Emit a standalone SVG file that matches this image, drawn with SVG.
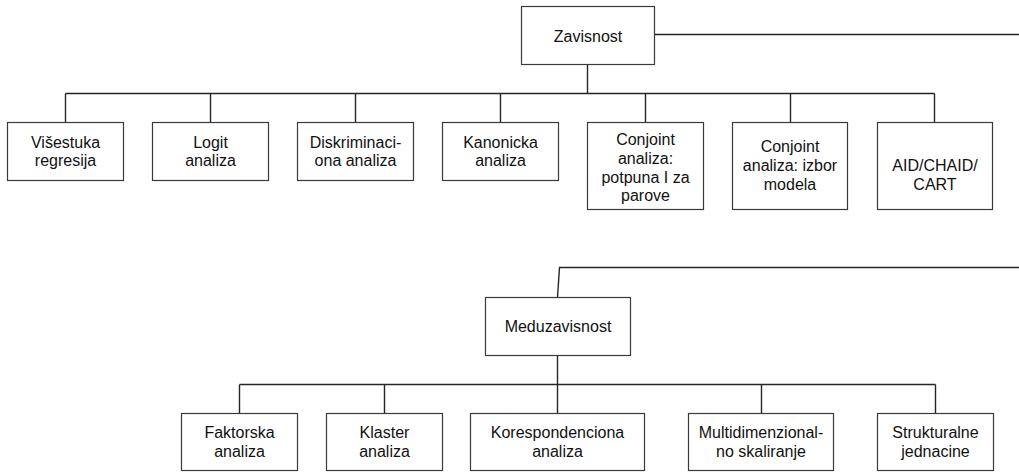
<svg xmlns="http://www.w3.org/2000/svg" width="1019" height="472" viewBox="0 0 1019 472">
<style>
.box{fill:#fff;stroke:#3a3a3a;stroke-width:1.2}
.ln{fill:none;stroke:#262626;stroke-width:1.4}
text{font-family:"Liberation Sans",Arial,sans-serif;font-size:16px;fill:#111;text-anchor:middle}
</style>
<rect width="1019" height="472" fill="#fff"/>
<g id="connectors">
<path class="ln" d="M654.5 34.5H1019"/>
<path class="ln" d="M587.5 64.5V93.5"/>
<path class="ln" d="M65.5 93.5H934.5"/>
<path class="ln" d="M65.5 93.5V122.5M210.5 93.5V122.5M355.5 93.5V122.5M500.5 93.5V122.5M645.5 93.5V122.5M790.5 93.5V122.5M934.5 93.5V122.5"/>
<path class="ln" d="M1019 267.5H559.5L557.5 297.5"/>
<path class="ln" d="M557.5 355.5V413.5"/>
<path class="ln" d="M239.5 384.5H935.5"/>
<path class="ln" d="M239.5 384.5V413.5M384.5 384.5V413.5M761.5 384.5V413.5M935.5 384.5V413.5"/>
</g>
<g id="zavisnost"><rect class="box" x="521.5" y="6.5" width="133" height="58"/><text x="588" y="41.5">Zavisnost</text></g>
<g id="visestuka"><rect class="box" x="7.5" y="122.5" width="116" height="58"/><text x="65.5" y="148">Višestuka</text><text x="65.5" y="166">regresija</text></g>
<g id="logit"><rect class="box" x="152.5" y="122.5" width="116" height="58"/><text x="210.5" y="148">Logit</text><text x="210.5" y="166">analiza</text></g>
<g id="diskriminaciona"><rect class="box" x="297.5" y="122.5" width="116" height="58"/><text x="355.5" y="148">Diskriminaci-</text><text x="355.5" y="166">ona analiza</text></g>
<g id="kanonicka"><rect class="box" x="442.5" y="122.5" width="116" height="58"/><text x="500.5" y="148">Kanonicka</text><text x="500.5" y="166">analiza</text></g>
<g id="conjoint1"><rect class="box" x="587.5" y="122.5" width="116" height="87"/><text x="645.5" y="144.5">Conjoint</text><text x="645.5" y="163.5">analiza:</text><text x="645.5" y="182.5">potpuna I za</text><text x="645.5" y="201">parove</text></g>
<g id="conjoint2"><rect class="box" x="732.5" y="122.5" width="115" height="87"/><text x="790" y="152">Conjoint</text><text x="790" y="171">analiza: izbor</text><text x="790" y="190">modela</text></g>
<g id="aid"><rect class="box" x="877.5" y="122.5" width="115" height="87"/><text x="935" y="171">AID/CHAID/</text><text x="935" y="190">CART</text></g>
<g id="meduzavisnost"><rect class="box" x="485.5" y="297.5" width="145" height="58"/><text x="558" y="331.5">Meduzavisnost</text></g>
<g id="faktorska"><rect class="box" x="181.5" y="413.5" width="116" height="57"/><text x="239.5" y="437.5">Faktorska</text><text x="239.5" y="456.5">analiza</text></g>
<g id="klaster"><rect class="box" x="326.5" y="413.5" width="116" height="57"/><text x="384.5" y="437.5">Klaster</text><text x="384.5" y="456.5">analiza</text></g>
<g id="korespondenciona"><rect class="box" x="470.5" y="413.5" width="174" height="57"/><text x="557.5" y="437.5">Korespondenciona</text><text x="557.5" y="456.5">analiza</text></g>
<g id="multidimenzionalno"><rect class="box" x="688.5" y="413.5" width="145" height="57"/><text x="761" y="437.5">Multidimenzional-</text><text x="761" y="456.5">no skaliranje</text></g>
<g id="strukturalne"><rect class="box" x="877.5" y="413.5" width="116" height="57"/><text x="935.5" y="437.5">Strukturalne</text><text x="935.5" y="456.5">jednacine</text></g>
</svg>
